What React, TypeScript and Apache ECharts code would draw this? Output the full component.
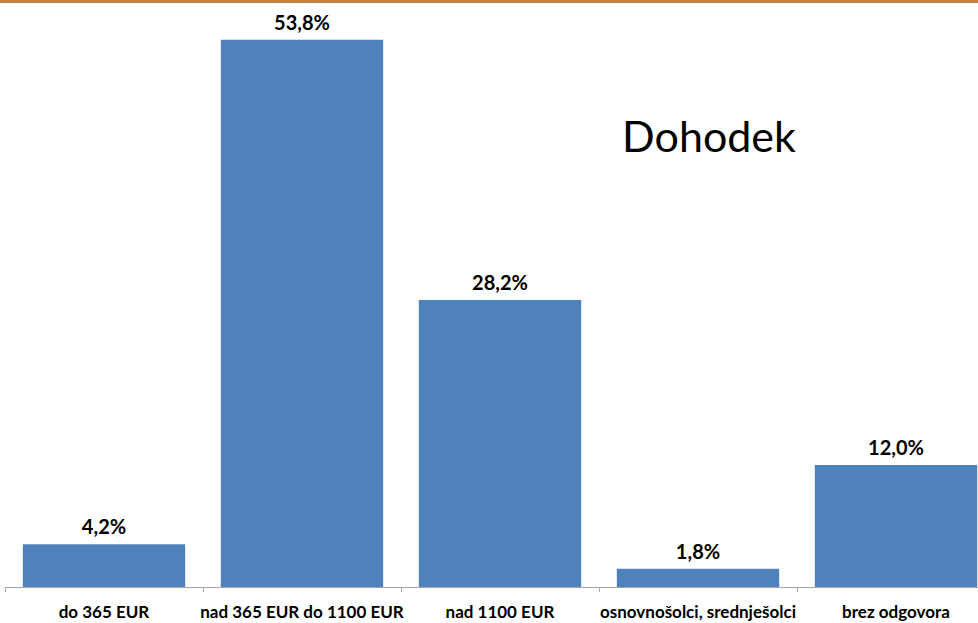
import React, { useEffect, useRef } from "react";
import * as echarts from "echarts";

const categories = [
  "do 365 EUR",
  "nad 365 EUR do 1100 EUR",
  "nad 1100 EUR",
  "osnovnošolci, srednješolci",
  "brez odgovora",
];
const values = [4.2, 53.8, 28.2, 1.8, 12.0];
const title = "Dohodek";

const FONT = "Lato, 'Open Sans', sans-serif";

export default function App() {
  const ref = useRef<HTMLDivElement>(null);
  useEffect(() => {
    if (!ref.current) return;
    const chart = echarts.init(ref.current, undefined, { renderer: "svg" });
    chart.setOption({
      animation: false,
      backgroundColor: "#ffffff",
      graphic: [
        {
          type: "rect",
          shape: { x: 0, y: 0, width: 978, height: 3 },
          style: { fill: "#C3813F" },
        },
        {
          type: "text",
          x: 709,
          y: 135,
          style: {
            text: title,
            font: `43px ${FONT}`,
            fill: "#000",
            textAlign: "center",
            textVerticalAlign: "middle",
          },
        },
      ],
      grid: { left: 5, top: 0, width: 990, bottom: 36, containLabel: false },
      xAxis: {
        type: "category",
        data: categories,
        axisLine: { lineStyle: { color: "#A6A6A6", width: 1 } },
        axisTick: { show: true, length: 5, lineStyle: { color: "#A6A6A6" } },
        axisLabel: {
          interval: 0,
          color: "#000",
          fontWeight: "bold",
          fontSize: 17,
          fontFamily: FONT,
          margin: 16,
        },
      },
      yAxis: {
        type: "value",
        min: 0,
        max: 57.7,
        show: false,
        splitLine: { show: false },
      },
      series: [
        {
          type: "bar",
          data: values,
          barCategoryGap: "18%",
          itemStyle: { color: "#4F81BD" },
          label: {
            show: true,
            position: "top",
            distance: 8,
            formatter: (p: any) => p.value.toFixed(1).replace(".", ",") + "%",
            color: "#000",
            fontWeight: "bold",
            fontSize: 20,
            fontFamily: FONT,
          },
        },
      ],
    });
    return () => chart.dispose();
  }, []);
  return (
    <div style={{ position: "absolute", left: 0, top: 0, width: 978, height: 623, overflow: "hidden" }}>
      <div ref={ref} style={{ width: 1000, height: 623 }} />
    </div>
  );
}
